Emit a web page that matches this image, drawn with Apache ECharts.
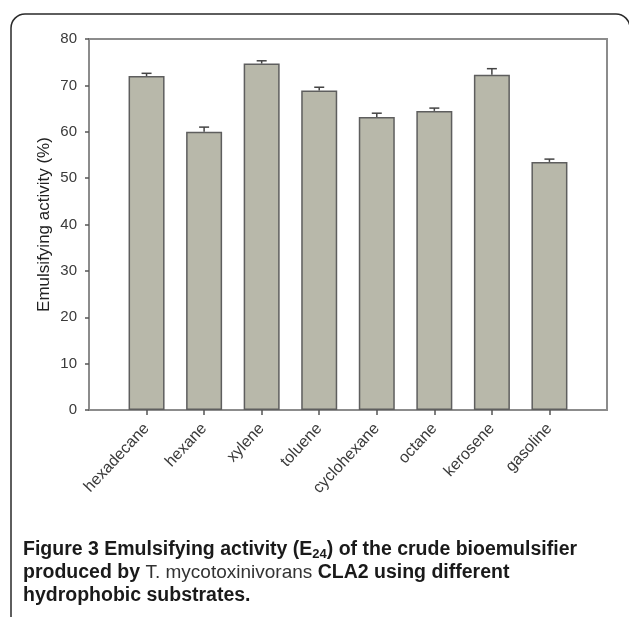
<!DOCTYPE html>
<html>
<head>
<meta charset="utf-8">
<script src="https://cdn.jsdelivr.net/npm/echarts@6/dist/echarts.min.js"></script>
<style>
  html, body { margin: 0; padding: 0; background: #fff; }
  #chart { width: 629px; height: 617px; }
</style>
</head>
<body>
<div id="chart"></div>
<script>
// Hydrocarbon substrates tested
var substrates = ['hexadecane', 'hexane', 'xylene', 'toluene', 'cyclohexane', 'octane', 'kerosene', 'gasoline'];
// Mean emulsifying activity E24 (%)
var e24Mean = [72.0, 60.0, 74.7, 68.9, 63.2, 64.5, 72.3, 53.5];
// Standard deviation (upper error bar)
var e24Err = [0.6, 1.0, 0.6, 0.7, 0.8, 0.6, 1.3, 0.6];
// Y axis range
var yMin = 0, yMax = 80, yStep = 10;

// one empty slot on each side of the substrates
var axisCats = [''].concat(substrates, ['']);
var barData = ['-'].concat(e24Mean, ['-']);
var errData = substrates.map(function (s, i) { return [i + 1, e24Mean[i], e24Err[i]]; });

var axisGray = '#8c8c8c';
var textColor = '#3a3a3a';
var sans = 'Liberation Sans, Arial, sans-serif';

var chart = echarts.init(document.getElementById('chart'), null, { renderer: 'canvas' });

chart.setOption({
  animation: false,
  backgroundColor: '#ffffff',
  grid: {
    left: 89, top: 39, right: 22, bottom: 207,
    show: true, borderColor: axisGray, borderWidth: 2, containLabel: false
  },
  xAxis: {
    type: 'category',
    data: axisCats,
    boundaryGap: false,
    axisLine: { lineStyle: { color: axisGray, width: 2 } },
    axisTick: {
      length: 5,
      lineStyle: { color: '#555', width: 1.5 },
      interval: function (idx, val) { return val !== ''; }
    },
    axisLabel: {
      interval: 0,
      rotate: 47,
      margin: 16,
      color: textColor,
      fontFamily: sans,
      fontSize: 16
    },
    splitLine: { show: false }
  },
  yAxis: {
    type: 'value',
    min: yMin, max: yMax, interval: yStep,
    name: 'Emulsifying activity (%)',
    nameLocation: 'middle',
    nameGap: 36,
    nameMoveOverlap: false,
    nameTextStyle: { color: '#222', fontFamily: sans, fontSize: 17 },
    axisLine: { show: true, lineStyle: { color: axisGray, width: 2 } },
    axisTick: { show: true, length: 4, lineStyle: { color: '#555', width: 1.5 } },
    axisLabel: { color: textColor, fontFamily: sans, fontSize: 15, margin: 12 },
    splitLine: { show: false }
  },
  series: [
    {
      type: 'bar',
      data: barData,
      barWidth: 36,
      itemStyle: { color: '#b8b8aa', borderColor: '#5e5e5e', borderWidth: 1.5 },
      z: 2
    },
    {
      type: 'custom',
      data: errData,
      z: 3,
      renderItem: function (params, api) {
        var x = api.value(0);
        var top = api.coord([x, api.value(1) + api.value(2)]);
        var base = api.coord([x, api.value(1)]);
        var half = 5;
        var style = { stroke: '#444', lineWidth: 1.5 };
        return {
          type: 'group',
          children: [
            { type: 'line', shape: { x1: top[0], y1: base[1], x2: top[0], y2: top[1] }, style: style },
            { type: 'line', shape: { x1: top[0] - half, y1: top[1], x2: top[0] + half, y2: top[1] }, style: style }
          ]
        };
      }
    }
  ],
  graphic: [
    {
      type: 'rect',
      shape: { x: 11, y: 14, width: 619, height: 700, r: 14 },
      style: { fill: 'none', stroke: '#2a2a2a', lineWidth: 1.5 },
      silent: true
    },
    {
      type: 'text',
      left: 23,
      top: 539,
      style: {
        text: '{b|Figure 3 Emulsifying activity (E}{sub|24}{b|) of the crude bioemulsifier}\n' +
              '{b|produced by }{i|T. mycotoxinivorans}{b| CLA2 using different}\n' +
              '{b|hydrophobic substrates.}',
        fill: '#1a1a1a',
        rich: {
          b: { fontFamily: sans, fontWeight: 'bold', fontSize: 19.5, lineHeight: 23, fill: '#1a1a1a' },
          sub: { fontFamily: sans, fontWeight: 'bold', fontSize: 13, lineHeight: 23, padding: [9, 0, 0, 0], fill: '#1a1a1a' },
          i: { fontFamily: sans, fontWeight: 'normal', fontSize: 19, lineHeight: 23, fill: '#333' }
        }
      }
    }
  ]
});
</script>
</body>
</html>
